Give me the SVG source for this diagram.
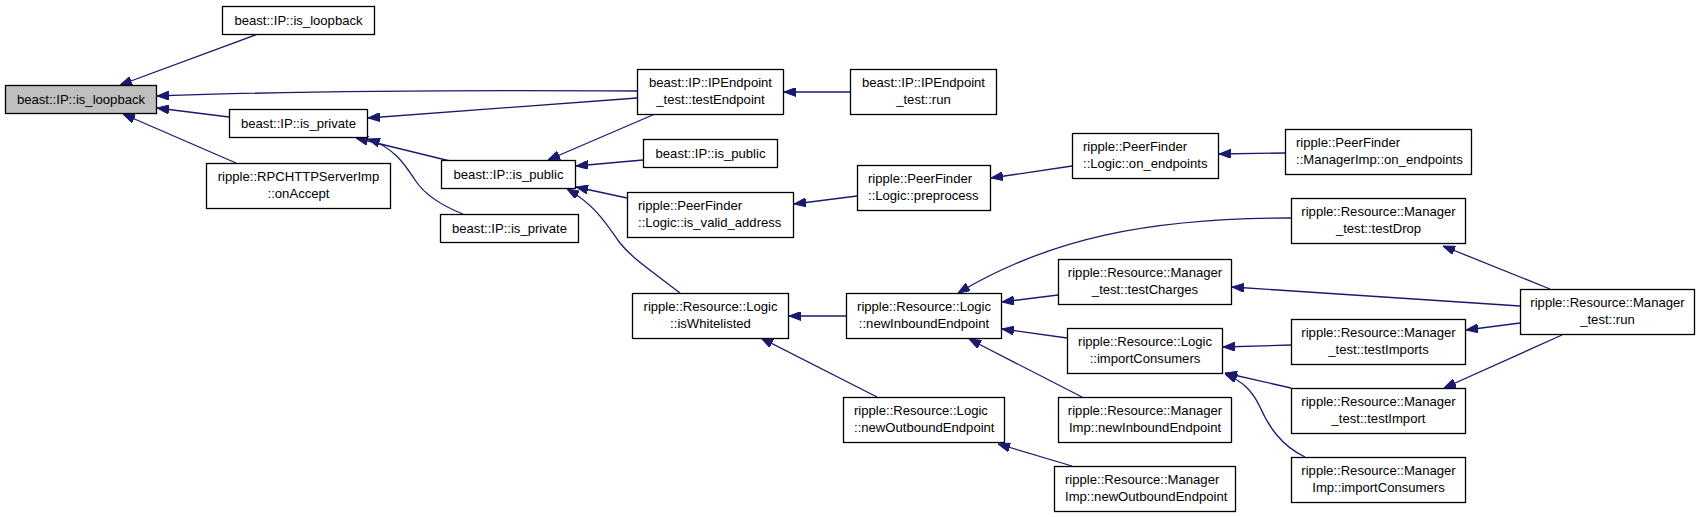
<svg xmlns="http://www.w3.org/2000/svg" width="1701" height="517" viewBox="0 0 1701 517">
<style>
.n rect{fill:#fff;stroke:#000;stroke-width:1.3}
.root rect{fill:#bfbfbf}
text{font-family:"Liberation Sans",Arial,Helvetica,sans-serif;font-size:13.1px;fill:#000}
.c{text-anchor:middle}
.l{text-anchor:start}
#edges path{fill:none;stroke:#191970;stroke-width:1.3;marker-end:url(#ah)}
</style>
<defs>
<marker id="ah" markerUnits="userSpaceOnUse" viewBox="0 0 12 9" markerWidth="12" markerHeight="9" refX="12" refY="4.5" orient="auto">
<path d="M0,0 L12,4.5 L0,9 z" fill="#191970" stroke="#191970" stroke-width="1"/>
</marker>
</defs>
<rect width="1701" height="517" fill="#fff"/>
<g id="edges">
<path d="M258,34 L120,85"/>
<path d="M637,91 C500,90 300,91 157,96"/>
<path d="M229,117 L157,108"/>
<path d="M236,163 L123,114"/>
<path d="M637,98 L368,118"/>
<path d="M450,161 L356,138"/>
<path d="M463,214 C440,205 425,195 415,180 C405,165 395,148 368,139"/>
<path d="M655,114 L548,160"/>
<path d="M643,160 L576,166"/>
<path d="M627,198 L576,187"/>
<path d="M680,293 C650,270 632,258 620,243 C605,222 595,205 567,189"/>
<path d="M857,196 L794,204"/>
<path d="M850,92 L784,92"/>
<path d="M1072,166 L991,178"/>
<path d="M1285,153 L1219,154"/>
<path d="M846,316 L789,316"/>
<path d="M877,397 L761,338"/>
<path d="M1291,218 C1150,218 1050,238 958,293"/>
<path d="M1058,295 L1002,302"/>
<path d="M1067,338 L1002,329"/>
<path d="M1082,397 L969,339"/>
<path d="M1072,466 L998,444"/>
<path d="M1550,289 L1443,246"/>
<path d="M1520,306 L1232,287"/>
<path d="M1520,323 L1466,330"/>
<path d="M1562,335 L1444,388"/>
<path d="M1291,345 L1223,347"/>
<path d="M1291,388 L1225,373"/>
<path d="M1305,457 C1280,445 1268,425 1260,407 C1252,390 1242,381 1225,374"/>
</g>
<g id="n_root" class="n root"><rect x="5.5" y="85.5" width="151" height="28"/><text class="c" x="81" y="104">beast::IP::is_loopback</text></g>
<g id="n_loopback2" class="n"><rect x="222.5" y="6.5" width="152" height="28"/><text class="c" x="298.5" y="25">beast::IP::is_loopback</text></g>
<g id="n_private1" class="n"><rect x="229.5" y="109.5" width="138" height="28"/><text class="c" x="298.5" y="128">beast::IP::is_private</text></g>
<g id="n_onAccept" class="n"><rect x="206.5" y="163.5" width="184" height="45"/><text class="c" x="298.5" y="181">ripple::RPCHTTPServerImp</text><text class="c" x="298.5" y="198">::onAccept</text></g>
<g id="n_testEndpoint" class="n"><rect x="637.5" y="69.5" width="146" height="45"/><text class="c" x="710.5" y="87">beast::IP::IPEndpoint</text><text class="c" x="710.5" y="104">_test::testEndpoint</text></g>
<g id="n_public1" class="n"><rect x="441.5" y="160.5" width="134" height="28"/><text class="c" x="508.5" y="179">beast::IP::is_public</text></g>
<g id="n_private2" class="n"><rect x="440.5" y="214.5" width="138" height="28"/><text class="c" x="509.5" y="233">beast::IP::is_private</text></g>
<g id="n_public2" class="n"><rect x="643.5" y="139.5" width="134" height="28"/><text class="c" x="710.5" y="158">beast::IP::is_public</text></g>
<g id="n_valid" class="n"><rect x="627.5" y="192.5" width="166" height="45"/><text class="l" x="638" y="210">ripple::PeerFinder</text><text class="l" x="638" y="227">::Logic::is_valid_address</text></g>
<g id="n_whitelisted" class="n"><rect x="632.5" y="293.5" width="156" height="45"/><text class="c" x="710.5" y="311">ripple::Resource::Logic</text><text class="c" x="710.5" y="328">::isWhitelisted</text></g>
<g id="n_ipRun" class="n"><rect x="850.5" y="69.5" width="146" height="45"/><text class="c" x="923.5" y="87">beast::IP::IPEndpoint</text><text class="c" x="923.5" y="104">_test::run</text></g>
<g id="n_preprocess" class="n"><rect x="857.5" y="165.5" width="133" height="45"/><text class="l" x="868" y="183">ripple::PeerFinder</text><text class="l" x="868" y="200">::Logic::preprocess</text></g>
<g id="n_inbound" class="n"><rect x="846.5" y="293.5" width="155" height="45"/><text class="c" x="924" y="311">ripple::Resource::Logic</text><text class="c" x="924" y="328">::newInboundEndpoint</text></g>
<g id="n_outbound" class="n"><rect x="843.5" y="397.5" width="161" height="45"/><text class="l" x="854" y="415">ripple::Resource::Logic</text><text class="l" x="854" y="432">::newOutboundEndpoint</text></g>
<g id="n_onEndpoints" class="n"><rect x="1072.5" y="133.5" width="146" height="45"/><text class="l" x="1083" y="151">ripple::PeerFinder</text><text class="l" x="1083" y="168">::Logic::on_endpoints</text></g>
<g id="n_testCharges" class="n"><rect x="1058.5" y="259.5" width="173" height="45"/><text class="c" x="1145" y="277">ripple::Resource::Manager</text><text class="c" x="1145" y="294">_test::testCharges</text></g>
<g id="n_importConsumers" class="n"><rect x="1067.5" y="328.5" width="155" height="45"/><text class="c" x="1145" y="346">ripple::Resource::Logic</text><text class="c" x="1145" y="363">::importConsumers</text></g>
<g id="n_mgrNewInbound" class="n"><rect x="1058.5" y="397.5" width="173" height="45"/><text class="c" x="1145" y="415">ripple::Resource::Manager</text><text class="c" x="1145" y="432">Imp::newInboundEndpoint</text></g>
<g id="n_mgrNewOutbound" class="n"><rect x="1054.5" y="466.5" width="181" height="45"/><text class="l" x="1065" y="484">ripple::Resource::Manager</text><text class="l" x="1065" y="501">Imp::newOutboundEndpoint</text></g>
<g id="n_mgrOnEndpoints" class="n"><rect x="1285.5" y="129.5" width="186" height="45"/><text class="l" x="1296" y="147">ripple::PeerFinder</text><text class="l" x="1296" y="164">::ManagerImp::on_endpoints</text></g>
<g id="n_testDrop" class="n"><rect x="1291.5" y="198.5" width="174" height="45"/><text class="c" x="1378.5" y="216">ripple::Resource::Manager</text><text class="c" x="1378.5" y="233">_test::testDrop</text></g>
<g id="n_testImports" class="n"><rect x="1291.5" y="319.5" width="174" height="45"/><text class="c" x="1378.5" y="337">ripple::Resource::Manager</text><text class="c" x="1378.5" y="354">_test::testImports</text></g>
<g id="n_testImport" class="n"><rect x="1291.5" y="388.5" width="174" height="45"/><text class="c" x="1378.5" y="406">ripple::Resource::Manager</text><text class="c" x="1378.5" y="423">_test::testImport</text></g>
<g id="n_mgrImportConsumers" class="n"><rect x="1291.5" y="457.5" width="174" height="45"/><text class="c" x="1378.5" y="475">ripple::Resource::Manager</text><text class="c" x="1378.5" y="492">Imp::importConsumers</text></g>
<g id="n_run" class="n"><rect x="1520.5" y="289.5" width="174" height="45"/><text class="c" x="1607.5" y="307">ripple::Resource::Manager</text><text class="c" x="1607.5" y="324">_test::run</text></g>
</svg>
